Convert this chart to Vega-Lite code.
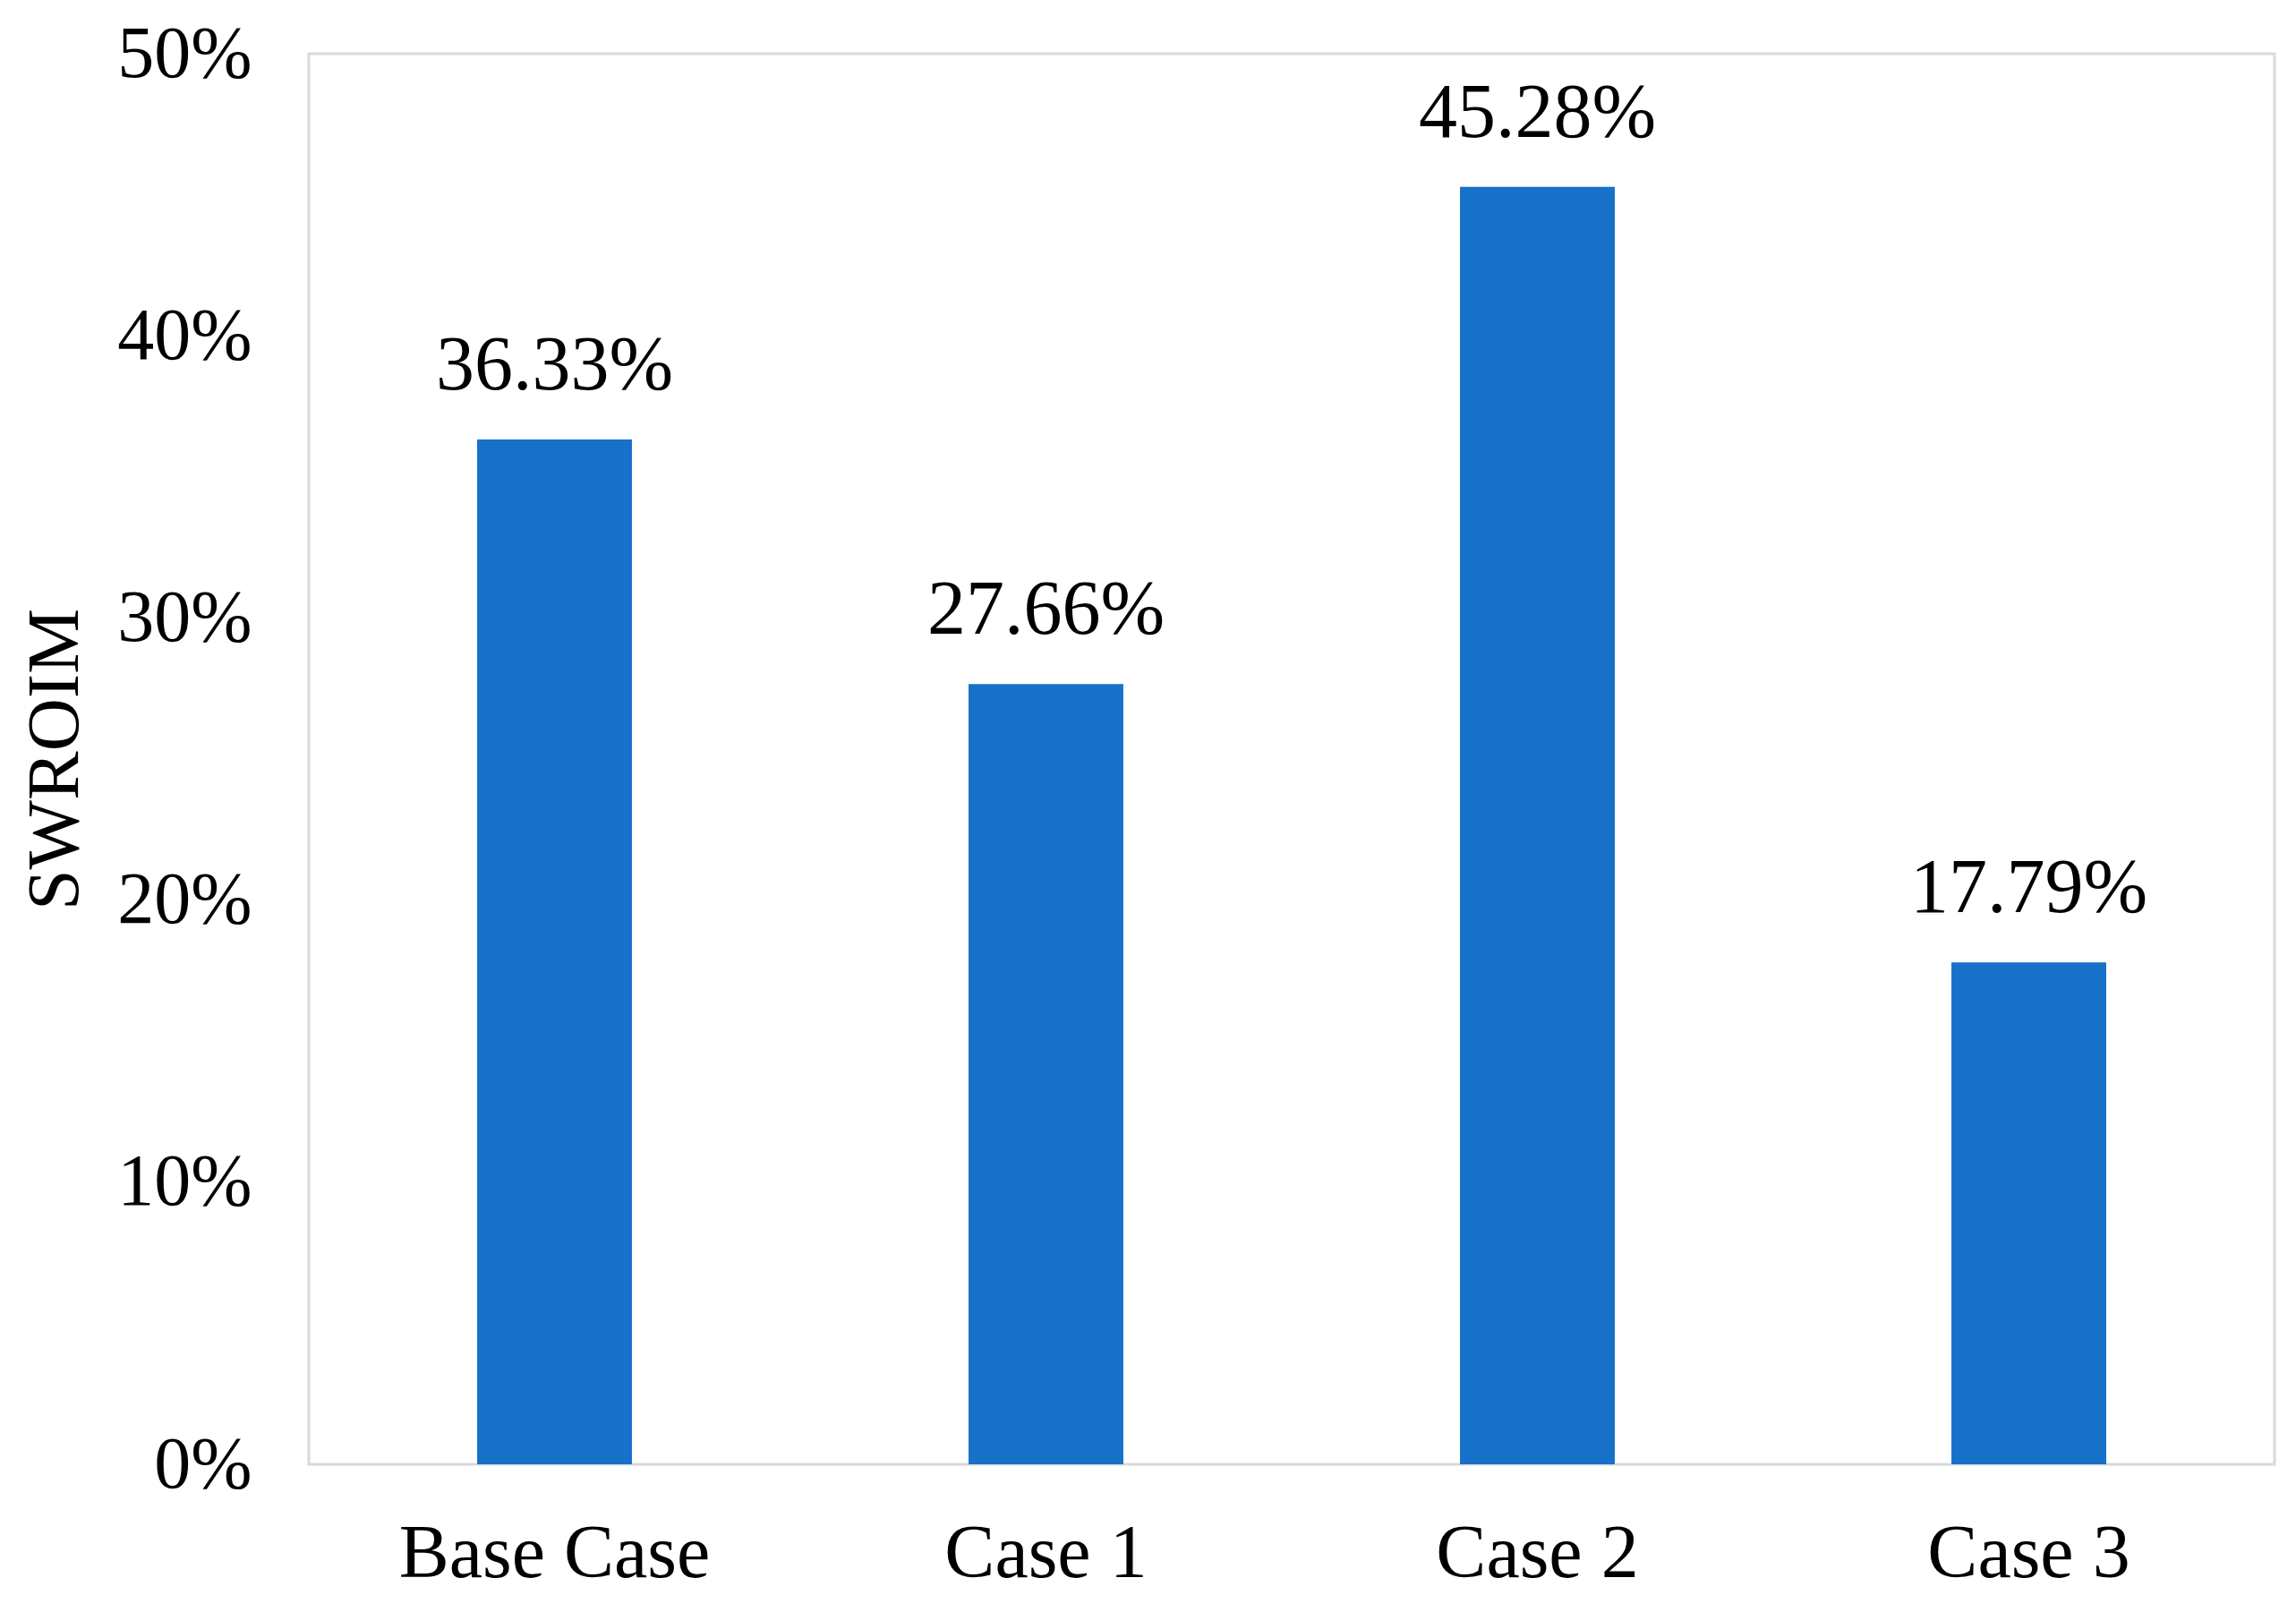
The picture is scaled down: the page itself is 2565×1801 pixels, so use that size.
{
  "$schema": "https://vega.github.io/schema/vega-lite/v6.json",
  "autosize": "none",
  "padding": {"left": 345, "top": 60, "right": 24, "bottom": 165},
  "width": 2196,
  "height": 1576,
  "background": "white",
  "config": {
    "view": {"stroke": "#D9D9D9", "strokeWidth": 3},
    "font": "Liberation Serif"
  },
  "data": {
    "values": [
      {"case": "Base Case", "swroim": 0.3633},
      {"case": "Case 1", "swroim": 0.2766},
      {"case": "Case 2", "swroim": 0.4528},
      {"case": "Case 3", "swroim": 0.1779}
    ]
  },
  "encoding": {
    "x": {
      "field": "case",
      "type": "nominal",
      "sort": null,
      "scale": {"paddingInner": 0.685, "paddingOuter": 0.3425},
      "axis": {
        "title": null,
        "domain": false,
        "ticks": false,
        "tickSize": 0,
        "labelAngle": 0,
        "labelLimit": 0,
        "labelFont": "Liberation Serif",
        "labelFontSize": 84,
        "labelColor": "#000000",
        "labelBaseline": "alphabetic",
        "labelPadding": 125
      }
    },
    "y": {
      "field": "swroim",
      "type": "quantitative",
      "scale": {"domain": [0, 0.5], "nice": false},
      "axis": {
        "title": "SWROIM",
        "format": ".0%",
        "values": [0, 0.1, 0.2, 0.3, 0.4, 0.5],
        "domain": false,
        "ticks": false,
        "tickSize": 0,
        "grid": false,
        "labelFont": "Liberation Serif",
        "labelFontSize": 82,
        "labelColor": "#000000",
        "labelPadding": 64,
        "titleFont": "Liberation Serif",
        "titleFontSize": 82,
        "titleFontWeight": "normal",
        "titleColor": "#000000",
        "titleAngle": -90,
        "titleAlign": "center",
        "titleBaseline": "middle",
        "titleX": -284,
        "titleY": 788
      }
    }
  },
  "layer": [
    {"mark": {"type": "bar", "color": "#1771C9"}},
    {
      "mark": {
        "type": "text",
        "baseline": "alphabetic",
        "dy": -56,
        "font": "Liberation Serif",
        "fontSize": 86,
        "color": "#000000"
      },
      "encoding": {
        "text": {"field": "swroim", "type": "quantitative", "format": ".2%"}
      }
    }
  ]
}
